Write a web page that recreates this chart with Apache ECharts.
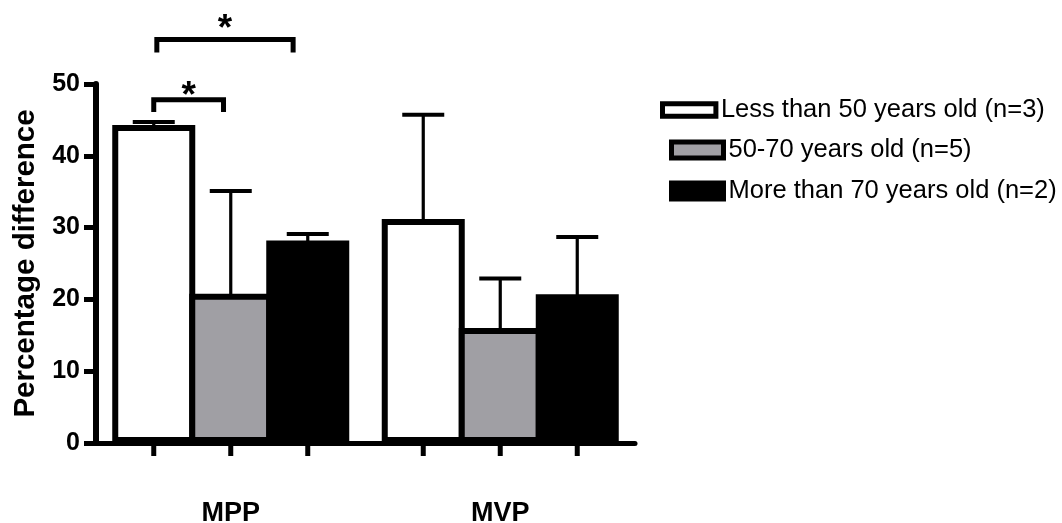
<!DOCTYPE html>
<html>
<head>
<meta charset="utf-8">
<script src="https://cdn.jsdelivr.net/npm/echarts@6/dist/echarts.min.js"></script>
<style>html,body{margin:0;padding:0;background:#fff}#c{width:1062px;height:523px}</style>
</head>
<body>
<div id="c"></div>
<script>
// ---- data ----
const categories = ['MPP', 'MVP'];
const seriesNames = ['Less than 50 years old (n=3)', '50-70 years old (n=5)', 'More than 70 years old (n=2)'];
const meansLess50 = [44.3, 31.2];
const means50to70 = [20.8, 16.0];
const meansMore70 = [28.2, 20.7];
const upperLess50 = [44.7, 45.7];
const upper50to70 = [35.1, 22.9];
const upperMore70 = [29.1, 28.7];
const yTicks = [0, 10, 20, 30, 40, 50];
// significance brackets: category, from bar, to bar (bar units), bracket level, leg end, star level
const brackets = [
  [0, 0, 0.906, 47.8, 46.1, 49.3],
  [0, 0.04, 1.81, 56.2, 54.4, 58.7]
];

const FONT = '"Liberation Sans", Arial, sans-serif';
const BORDER = 6;
const BAR_W = 83;
const PITCH = BAR_W - BORDER;
const fills = ['#ffffff', '#a09fa4', '#000000'];
const meansAll = [meansLess50, means50to70, meansMore70];
const upperAll = [upperLess50, upper50to70, upperMore70];

const errData = [];
meansAll.forEach((m, si) => m.forEach((v, ci) => errData.push([ci, si, v, upperAll[si][ci]])));

function renderErr(params, api) {
  const ci = api.value(0), si = api.value(1), mean = api.value(2), up = api.value(3);
  const base = api.coord([ci, 0]);
  const x = base[0] + (si - 1) * PITCH;
  const yM = api.coord([ci, mean])[1];
  const yU = api.coord([ci, up])[1];
  return {
    type: 'group', children: [
      {type: 'line', shape: {x1: x, y1: yM + 2, x2: x, y2: yU}, style: {stroke: '#000', lineWidth: 3.2}},
      {type: 'line', shape: {x1: x - 21, y1: yU, x2: x + 21, y2: yU}, style: {stroke: '#000', lineWidth: 4}},
      {type: 'line', shape: {x1: x, y1: base[1], x2: x, y2: base[1] + 13}, style: {stroke: '#000', lineWidth: 5}}
    ]
  };
}

function renderBracket(params, api) {
  const ci = api.value(0), f = api.value(1), t = api.value(2), y = api.value(3), ly = api.value(4), sy = api.value(5);
  const c = api.coord([ci, y]);
  const x1 = c[0] + (f - 1) * PITCH, x2 = c[0] + (t - 1) * PITCH;
  const yL = api.coord([ci, ly])[1];
  const yS = api.coord([ci, sy])[1];
  return {
    type: 'group', children: [
      {type: 'polyline', shape: {points: [[x1, yL], [x1, c[1]], [x2, c[1]], [x2, yL]]},
       style: {stroke: '#000', lineWidth: 5, fill: null, lineJoin: 'miter', lineCap: 'butt'}},
      {type: 'text', x: (x1 + x2) / 2, y: yS + 8,
       style: {text: '*', fontSize: 37, fontWeight: 'bold', fontFamily: FONT, fill: '#000', align: 'center', verticalAlign: 'middle'}}
    ]
  };
}

const legendPos = [
  {left: 660, top: 97, w: 53.4, h: 12.3},
  {left: 669, top: 137, w: 52, h: 16},
  {left: 669, top: 178, w: 52, h: 16}
];

const chart = echarts.init(document.getElementById('c'), null, {renderer: 'canvas'});
chart.setOption({
  backgroundColor: '#fff',
  animation: false,
  grid: {left: 96, right: 427, top: 84, bottom: 80, containLabel: false, outerBoundsMode: 'none'},
  legend: seriesNames.map((n, i) => ({
    data: [n], orient: 'vertical', left: legendPos[i].left, top: legendPos[i].top, padding: 0,
    itemWidth: legendPos[i].w, itemHeight: legendPos[i].h, selectedMode: false, icon: 'rect',
    itemStyle: {color: fills[i], borderColor: '#000', borderWidth: 5},
    textStyle: {fontSize: 25.5, color: '#000', fontFamily: FONT}
  })),
  xAxis: {
    type: 'category', data: categories,
    axisLine: {show: true, lineStyle: {color: '#000', width: 5}},
    axisTick: {show: false},
    axisLabel: {fontSize: 27, fontWeight: 'bold', color: '#000', fontFamily: FONT, margin: 57}
  },
  yAxis: {
    type: 'value', min: 0, max: 50, interval: 10,
    name: 'Percentage difference', nameLocation: 'middle', nameGap: 55, nameRotate: 90,
    nameTextStyle: {fontSize: 29.5, fontWeight: 'bold', color: '#000', fontFamily: FONT},
    axisLine: {show: true, lineStyle: {color: '#000', width: 6}},
    axisTick: {show: true, length: 12, lineStyle: {color: '#000', width: 5}},
    axisLabel: {fontSize: 25, fontWeight: 'bold', color: '#000', fontFamily: FONT, margin: 16,
      formatter: v => yTicks.includes(v) ? String(v) : ''},
    splitLine: {show: false}
  },
  series: [
    ...seriesNames.map((n, i) => ({
      name: n, type: 'bar', data: meansAll[i], barWidth: BAR_W, barGap: (-BORDER / BAR_W * 100) + '%',
      itemStyle: {color: fills[i], borderColor: '#000', borderWidth: BORDER}
    })),
    {type: 'custom', renderItem: renderErr, data: errData, encode: {x: 0, y: 2}, clip: false, z: 5, silent: true},
    {type: 'custom', renderItem: renderBracket, data: brackets, encode: {x: 0, y: 3}, clip: false, z: 5, silent: true}
  ]
});
</script>
</body>
</html>
